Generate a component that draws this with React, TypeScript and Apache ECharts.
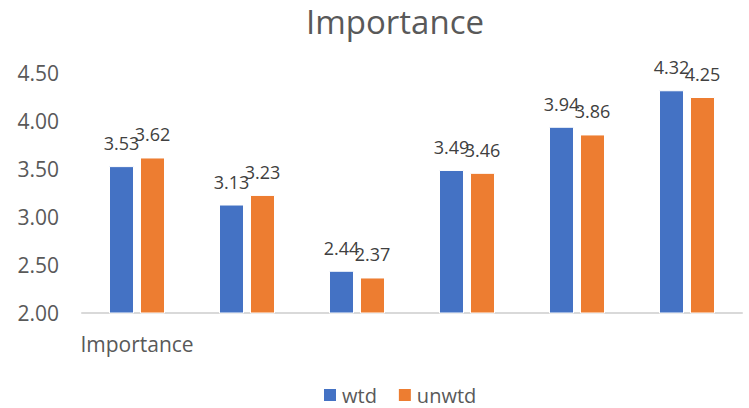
import React, { useEffect, useRef } from "react";
import * as echarts from "echarts";

const categories = ["Importance", "", "", "", "", ""];
const wtd = [3.53, 3.13, 2.44, 3.49, 3.94, 4.32];
const unwtd = [3.62, 3.23, 2.37, 3.46, 3.86, 4.25];
const seriesNames = ["wtd", "unwtd"];

const FONT = "'Open Sans', 'Noto Sans', sans-serif";

export default function App() {
  const ref = useRef<HTMLDivElement>(null);

  useEffect(() => {
    if (!ref.current) return;
    const chart = echarts.init(ref.current, undefined, { renderer: "svg" });
    const label = {
      show: true,
      position: "top" as const,
      distance: 14,
      color: "#404040",
      fontSize: 18,
      fontFamily: FONT,
      formatter: (p: any) => Number(p.value).toFixed(2),
    };
    chart.setOption({
      animation: false,
      title: {
        text: "Importance",
        left: 390,
        top: 0,
        textAlign: "center",
        textStyle: { fontSize: 33, fontWeight: "normal", color: "#595959", fontFamily: FONT },
      },
      legend: {
        top: 380,
        left: 317,
        itemWidth: 14,
        itemHeight: 14,
        itemGap: 20,
        icon: "rect",
        textStyle: { fontSize: 20, color: "#595959", fontFamily: FONT },
        data: seriesNames,
      },
      grid: { left: 82, right: 7, top: 73, bottom: 95 },
      xAxis: {
        type: "category",
        data: categories,
        axisLine: { lineStyle: { color: "#D9D9D9", width: 2 } },
        axisTick: { show: false },
        axisLabel: { color: "#595959", fontSize: 21, fontFamily: FONT, margin: 20 },
      },
      yAxis: {
        type: "value",
        min: 2,
        max: 4.5,
        interval: 0.5,
        splitLine: { show: false },
        axisLine: { show: false },
        axisTick: { show: false },
        axisLabel: {
          color: "#595959",
          fontSize: 21,
          fontFamily: FONT,
          margin: 23,
          formatter: (v: number) => v.toFixed(2),
        },
      },
      series: [
        {
          name: seriesNames[0],
          type: "bar",
          data: wtd,
          barWidth: 25,
          barGap: "24%",
          itemStyle: { color: "#4472C4", borderColor: "#ffffff", borderWidth: 1 },
          label,
        },
        {
          name: seriesNames[1],
          type: "bar",
          data: unwtd,
          barWidth: 25,
          barGap: "24%",
          itemStyle: { color: "#ED7D31", borderColor: "#ffffff", borderWidth: 1 },
          label,
        },
      ],
    });
    return () => chart.dispose();
  }, []);

  return <div ref={ref} style={{ width: 749, height: 408, position: "absolute", left: 0, top: 0 }} />;
}
